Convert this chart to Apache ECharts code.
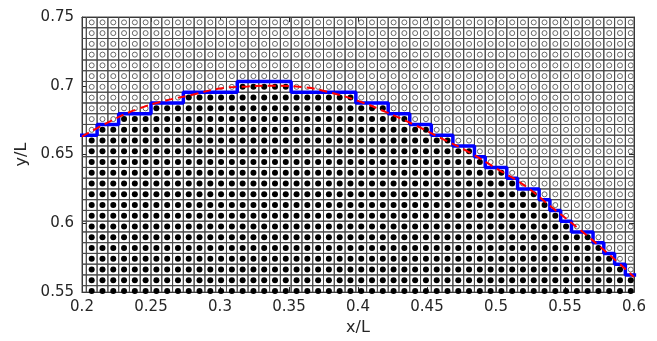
<!DOCTYPE html>
<html><head><meta charset="utf-8">
<script src="https://cdn.jsdelivr.net/npm/echarts/dist/echarts.min.js"></script>
<style>html,body{margin:0;padding:0;background:#fff}#c{width:657px;height:341px}</style>
</head><body><div id="c"></div>
<script>
// ---- data ----
const cellSize = 1 / 128;          // grid spacing (in units of L)
const firstCol = 25;               // first cell column index
const firstRow = 70;               // first cell row index
const lastRow = 95;                // last cell row index
// top boundary (row index) of filled cells for columns 25..76
const interfaceLevel = [85,85,86,86,87,87,87,88,88,88,89,89,89,89,89,90,90,90,90,90,
  89,89,89,89,89,89,88,88,88,87,87,86,86,85,85,84,84,83,82,82,81,80,80,79,78,77,76,76,75,74,73,72];
// exact interface (red dashed)
const curveX = [0.20,0.22,0.24,0.26,0.28,0.30,0.32,0.34,0.36,0.38,0.40,0.42,0.44,0.46,0.48,0.50,0.52,0.54,0.56,0.58,0.60];
const curveY = [0.663,0.674,0.683,0.689,0.6935,0.698,0.6995,0.700,0.699,0.695,0.689,0.681,0.672,0.662,0.652,0.640,0.628,0.612,0.596,0.579,0.561];
const xRange = [0.2, 0.6];
const yRange = [0.55, 0.75];
const tickStep = 0.05;

// ---- build ----
const cells = [], filled = [], empty = [], stair = [];
interfaceLevel.forEach((lev, i) => {
  const k = firstCol + i;
  stair.push([k * cellSize, lev * cellSize], [(k + 1) * cellSize, lev * cellSize]);
  for (let j = firstRow; j <= lastRow; j++) {
    cells.push([k, j]);
    const c = [(k + 0.5) * cellSize, (j + 0.5) * cellSize];
    (j < lev ? filled : empty).push(c);
  }
});
const curve = curveX.map((x, i) => [x, curveY[i]]);

const FONT = 'DejaVu Sans';
const txt = '#262626';
function axisCommon(extra) {
  return Object.assign({
    type: 'value', interval: tickStep,
    axisLine: { show: true, onZero: false, lineStyle: { color: txt, width: 1 } },
    axisTick: { show: true, inside: true, length: 5, lineStyle: { color: txt } },
    splitLine: { show: false },
    axisLabel: { fontFamily: FONT, fontSize: 15, color: txt, margin: 8 }
  }, extra);
}

const chart = echarts.init(document.getElementById('c'), null, { renderer: 'canvas' });
chart.setOption({
  animation: false,
  backgroundColor: '#fff',
  grid: { left: 82, right: 23, top: 17, bottom: 44 },
  xAxis: [
    axisCommon({ position: 'bottom', min: xRange[0], max: xRange[1], name: 'x/L', nameLocation: 'middle', nameGap: 26,
      nameTextStyle: { fontFamily: FONT, fontSize: 16, color: txt } }),
    axisCommon({ position: 'top', min: xRange[0], max: xRange[1], axisLabel: { show: false } })
  ],
  yAxis: [
    axisCommon({ position: 'left', min: yRange[0], max: yRange[1], name: 'y/L', nameLocation: 'middle', nameGap: 41,
      nameTextStyle: { fontFamily: FONT, fontSize: 16, color: txt } }),
    axisCommon({ position: 'right', min: yRange[0], max: yRange[1], axisLabel: { show: false } })
  ],
  series: [
    {
      type: 'custom', z: 1, silent: true, data: cells,
      renderItem: function (params, api) {
        const k = api.value(0), j = api.value(1);
        const p0 = api.coord([k * cellSize, (j + 1) * cellSize]);
        const p1 = api.coord([(k + 1) * cellSize, j * cellSize]);
        const cs = params.coordSys;
        const shape = echarts.graphic.clipRectByRect(
          { x: p0[0], y: p0[1], width: p1[0] - p0[0], height: p1[1] - p0[1] },
          { x: cs.x, y: cs.y, width: cs.width, height: cs.height });
        return shape && { type: 'rect', shape: shape, style: { fill: 'none', stroke: '#4a4a4a', lineWidth: 1 } };
      }
    },
    {
      type: 'scatter', z: 2, data: empty, symbol: 'circle', symbolSize: 5,
      itemStyle: { color: '#fff', borderColor: '#666', borderWidth: 1, opacity: 1 }, clip: true
    },
    {
      type: 'scatter', z: 2, data: filled, symbol: 'circle', symbolSize: 6,
      itemStyle: { color: '#000', opacity: 1 }, clip: true
    },
    {
      type: 'line', z: 4, data: stair, showSymbol: false, symbol: 'none', clip: true,
      lineStyle: { color: '#0000ff', width: 3.5 }
    },
    {
      type: 'line', z: 5, data: curve, smooth: true, showSymbol: false, symbol: 'none', clip: true,
      lineStyle: { color: '#ff0000', width: 2, type: [8, 5] }
    }
  ]
});
</script>
</body></html>
